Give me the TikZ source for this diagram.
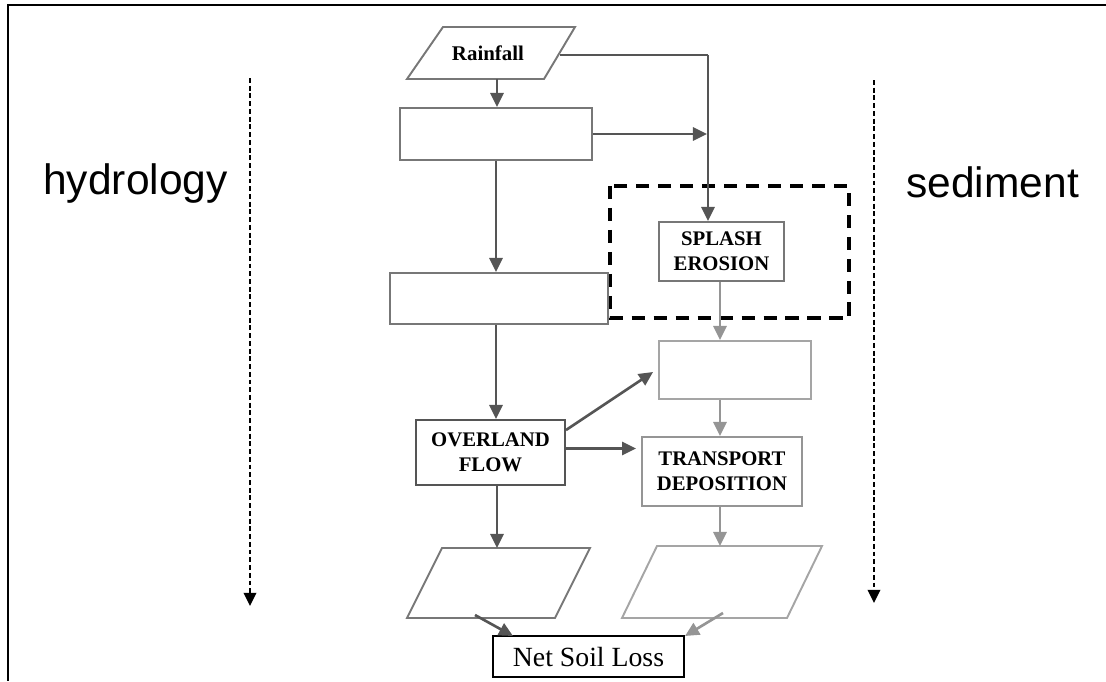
\documentclass[tikz,border=0pt]{standalone}
\usepackage{fontspec}
\setmainfont{Liberation Serif}
\newfontfamily\sansf{Liberation Sans}
\usetikzlibrary{arrows.meta,calc}
\definecolor{gdark}{HTML}{555555}
\definecolor{gmid}{HTML}{777777}
\definecolor{glight}{HTML}{959595}
\definecolor{gpale}{HTML}{A5A5A5}
\tikzset{
  box/.style={draw=#1, line width=1.1pt, inner sep=0pt, fill=white, align=center,
    font=\bfseries\fontsize{11.8}{14.2}\selectfont},
  box/.default=gmid,
  para/.style={draw=#1, line width=1.1pt},
  para/.default=gmid,
  arr/.style={draw=#1, line width=1.5pt, -{Triangle[length=8pt,width=7.5pt,fill=#1]}},
  arr/.default=gdark,
  plain/.style={draw=#1, line width=1.5pt},
  plain/.default=gdark,
  dotarr/.style={draw=black, line width=1.4pt, dash pattern=on 2.8pt off 1.6pt,
    -{Triangle[length=7.5pt,width=7pt,fill=black]}},
  sidelbl/.style={font=\sansf\fontsize{24.2}{28}\selectfont, inner sep=0pt, anchor=base west},
}
\begin{document}
\begin{tikzpicture}[x=0.02cm,y=-0.02cm]
\useasboundingbox (0,0) rectangle (1106,681);
% frame
\draw[line width=1.4pt] (1106,5) -- (8,5) -- (8,681);

% side labels and dotted arrows
\node[sidelbl] (hyd) at (43,194) {hydrology};
\node[sidelbl] (sed) at (906,197) {sediment};
\coordinate (hTop) at (250,78);
\coordinate (hBot) at (250,606);
\coordinate (sTop) at (874,80);
\coordinate (sBot) at (874,603);
\draw[dotarr] (hTop) -- (hBot);
\draw[dotarr] (sTop) -- (sBot);

% dashed box
\draw[line width=2.5pt, dash pattern=on 7.5pt off 5pt] (610,186) rectangle (849,318);

% rainfall parallelogram
\draw[para=gmid] (443,27) -- (575,27) -- (544,79) -- (407,79) -- cycle;
\node[font=\bfseries\fontsize{11.9}{14}\selectfont, inner sep=0pt] (rain) at (488,53) {Rainfall};
\coordinate (rainB) at (497,79);
\coordinate (rainR) at (560,55);
\coordinate (jn) at (708,55);

% boxes
\node[box=gmid, minimum width=3.84cm, minimum height=1.04cm] (b1) at (496,134) {};
\node[box=gmid, minimum width=4.36cm, minimum height=1.02cm] (b2) at (499,298.5) {};
\node[box=gmid, minimum width=2.5cm, minimum height=1.18cm] (spl) at (721.5,251.5) {SPLASH\\EROSION};
\node[box=gpale, minimum width=3.04cm, minimum height=1.16cm] (b3) at (735,370) {};
\node[box=gdark, minimum width=2.98cm, minimum height=1.3cm] (ov) at (490.5,452.5) {OVERLAND\\FLOW};
\node[box=glight, minimum width=3.2cm, minimum height=1.38cm] (tr) at (722,471.5) {TRANSPORT\\DEPOSITION};
\node[draw=black, line width=1.4pt, inner sep=0pt, minimum width=3.82cm, minimum height=0.82cm,
  font=\fontsize{15.8}{18}\selectfont] (net) at (588.5,656.5) {Net Soil Loss\hspace{6pt}};

% bottom parallelograms
\draw[para=gmid] (442,548) -- (590,548) -- (555,618) -- (407,618) -- cycle;
\draw[para=gpale] (657,546) -- (822,546) -- (787,618) -- (622,618) -- cycle;
\coordinate (pL) at (497,548);
\coordinate (pR) at (720,546);
\coordinate (pLb) at (475,615);
\coordinate (pRb) at (723,613);
\coordinate (netL) at (513,636);
\coordinate (netR) at (685,636);

% connectors: hydrology side
\draw[arr=gdark] (rainB) -- (rainB |- b1.north);
\draw[plain=gdark] (rainR) -- (jn);
\draw[arr=gdark] (jn) -- (jn |- spl.north);
\draw[arr=gdark] (b1.east) -- ($(jn |- b1.east)+(-1,0)$);
\draw[arr=gdark] (b1.south) -- (b1.south |- b2.north);
\draw[arr=gdark] (b1.south |- b2.south) -- (b1.south |- ov.north);
\draw[arr=gdark] (ov.south -| pL) -- (pL);
\draw[arr=gdark] ($(ov.north east)+(0,11)$) -- ($(b3.west)+(-5,2)$);
\draw[arr=gdark] ($(ov.east)+(0,-4)$) -- ($(tr.west |- ov.east)+(-5,-4)$);
\draw[arr=gdark] (pLb) -- (netL);

% connectors: sediment side
\draw[arr=glight] (spl.south -| pR) -- (pR |- b3.north);
\draw[arr=glight] (pR |- b3.south) -- (pR |- tr.north);
\draw[arr=glight] (pR |- tr.south) -- (pR);
\draw[arr=glight] (pRb) -- (netR);
\end{tikzpicture}
\end{document}
